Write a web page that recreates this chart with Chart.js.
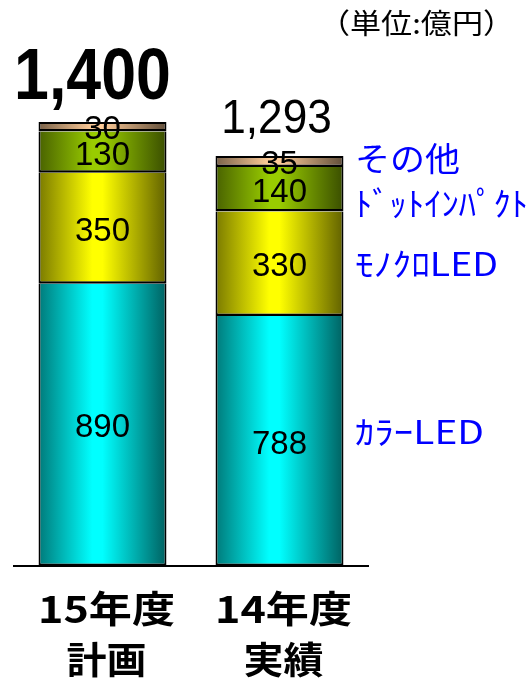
<!DOCTYPE html>
<html><head><meta charset="utf-8">
<script src="https://cdn.jsdelivr.net/npm/chart.js@4"></script>
<style>html,body{margin:0;padding:0;background:#fff}#wrap{width:527px;height:682px;position:relative}</style>
</head><body><div id="wrap"><canvas id="c" width="527" height="682"></canvas></div>
<script>
const categories = [["15年度","計画"],["14年度","実績"]];
const seriesNames = ["ｶﾗｰLED","ﾓﾉｸﾛLED","ﾄﾞｯﾄｲﾝﾊﾟｸﾄ","その他"];
const colorLED = [890, 788];
const monoLED = [350, 330];
const dotImpact = [130, 140];
const others = [30, 35];
const totalLabels = ["1,400", "1,293"];
const unitLabel = "（単位:億円）";

const BAR_PCT = 0.723;
function shade(rgb, f){ return 'rgb('+Math.round(rgb[0]*f)+','+Math.round(rgb[1]*f)+','+Math.round(rgb[2]*f)+')'; }
function grad(base){
  return function(ctx){
    const chart = ctx.chart, area = chart.chartArea, xs = chart.scales.x;
    if(!area || !xs) return shade(base,1);
    const cx = xs.getPixelForValue(ctx.dataIndex);
    const w = xs.width / categories.length * BAR_PCT;
    const g = chart.ctx.createLinearGradient(cx - w/2, 0, cx + w/2, 0);
    g.addColorStop(0, shade(base,0.48));
    g.addColorStop(0.42, shade(base,1));
    g.addColorStop(0.5, shade(base,1));
    g.addColorStop(1, shade(base,0.38));
    return g;
  };
}
const CYAN=[0,255,255], YEL=[255,255,0], GRN=[153,204,0], TAN=[255,204,153];
function ds(label, data, base, isTop){
  return {label, data, backgroundColor: grad(base), borderColor:'#000', inflateAmount:0,
    borderWidth:{left:2, right:2, top:isTop?2:0, bottom:2.5}, borderSkipped:false, clip:false};
}

function fitText(c, text, x, y, targetW){
  const w = c.measureText(text).width;
  const s = targetW / w;
  c.save();
  c.translate(x, y);
  c.scale(s, 1);
  c.fillText(text, 0, 0);
  c.restore();
}

const labelPlugin = {
  id:'labels',
  afterDatasetsDraw(chart){
    const c = chart.ctx;
    c.save();
    c.fillStyle = '#000';
    c.textAlign = 'center';
    c.textBaseline = 'middle';
    c.font = '33px "Liberation Sans", Arial, sans-serif';
    chart.data.datasets.forEach((d, di) => {
      chart.getDatasetMeta(di).data.forEach((el, i) => {
        c.fillText(String(d.data[i]), el.x, (el.y + el.base)/2 + 3.5);
      });
    });
    // totals
    const topMeta = chart.getDatasetMeta(chart.data.datasets.length - 1);
    const totalStyles = [
      {font:'bold 72px "Liberation Sans", Arial, sans-serif', sx:0.87, dx:-10, dy:-23},
      {font:'48px "Liberation Sans", Arial, sans-serif', sx:0.92, dx:-3, dy:-23}
    ];
    c.textBaseline = 'alphabetic';
    topMeta.data.forEach((el, i) => {
      const st = totalStyles[i];
      c.save();
      c.translate(el.x + st.dx, el.y + st.dy);
      c.scale(st.sx, 1);
      c.font = st.font;
      c.fillText(totalLabels[i], 0, 0);
      c.restore();
    });
    // category labels (positions from the x scale)
    const xs = chart.scales.x;
    const base = chart.chartArea.bottom;
    c.textAlign = 'center';
    c.textBaseline = 'middle';
    c.font = 'bold 37px "Noto Sans CJK JP", sans-serif';
    categories.forEach((lines, i) => {
      const cx = xs.getPixelForValue(i) + 4;
      fitText(c, lines[0], cx, base + 43, 137);
      fitText(c, lines[1], cx, base + 94, 80);
    });
    // unit
    c.textAlign = 'left';
    c.font = '28px "Noto Sans CJK JP", sans-serif';
    fitText(c, unitLabel, 319, 23, 195);
    // series names
    c.fillStyle = '#0000ff';
    const nameStyles = [
      {y:432, size:32, w:129}, {y:264, size:32, w:143}, {y:203, size:33, w:173}, {y:158, size:33, w:105}
    ];
    seriesNames.forEach((n, i) => {
      const st = nameStyles[i];
      c.font = st.size + 'px "Noto Sans CJK JP", sans-serif';
      fitText(c, n, 355, st.y, st.w);
    });
    c.restore();
  }
};

new Chart(document.getElementById('c'), {
  type:'bar',
  data:{
    labels: categories,
    datasets:[
      ds(seriesNames[0], colorLED, CYAN, false),
      ds(seriesNames[1], monoLED, YEL, false),
      ds(seriesNames[2], dotImpact, GRN, false),
      ds(seriesNames[3], others, TAN, true)
    ]
  },
  options:{
    responsive:false,
    animation:false,
    events:[],
    barPercentage: BAR_PCT,
    categoryPercentage: 1,
    layout:{padding:{left:14, right:159, top:122, bottom:0}},
    plugins:{legend:{display:false}, tooltip:{enabled:false}},
    scales:{
      x:{
        stacked:true,
        grid:{display:false, drawTicks:false},
        border:{display:true, color:'#000', width:2},
        ticks:{display:false},
        afterFit(s){ s.height = 116; }
      },
      y:{
        stacked:true, display:false, min:0, max:1400
      }
    }
  },
  plugins:[labelPlugin]
});
</script>
</body></html>
